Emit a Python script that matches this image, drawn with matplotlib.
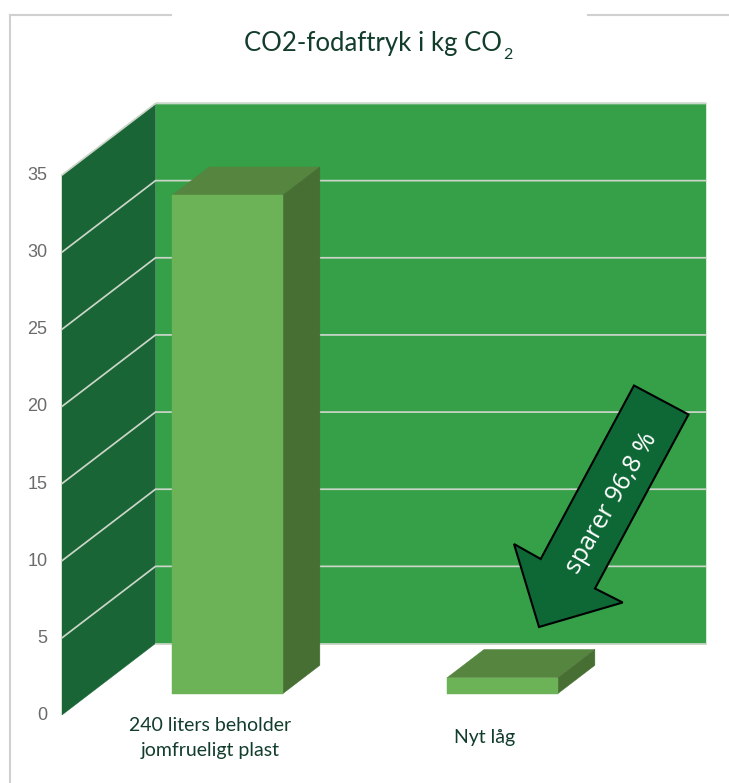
import matplotlib
matplotlib.use("Agg")
import matplotlib.pyplot as plt
from matplotlib.patches import Polygon
from matplotlib.transforms import Affine2D, ScaledTranslation

categories = ["240 liters beholder\njomfrueligt plast", "Nyt låg"]
co2_values = [32.3, 1.03]
y_ticks = [0, 5, 10, 15, 20, 25, 30, 35]
title_text = "CO2-fodaftryk i kg CO"
title_subscript = "2"
arrow_text = "sparer 96,8 %"

W, H = 729, 783
WALL, SIDE_WALL = "#35A047", "#196535"
BAR_FRONT, BAR_TOP, BAR_SIDE = "#6CB256", "#55853F", "#476F33"
ARROW = "#0E6836"
GRID = "#CBD5C9"
TEXT_DARK = "#123D2B"

fig = plt.figure(figsize=(W / 100, H / 100), dpi=100, facecolor="white")
ax = fig.add_axes([62 / W, (H - 715) / H, 550 / W, 540 / H])
ax.set_xlim(-0.5, 1.5)
ax.set_ylim(0, 35)
ax.patch.set_visible(False)
for s in ax.spines.values():
    s.set_visible(False)

# pseudo-3D depth: z=0 is the front plane, z=1 the back wall
DX, DY = 93.5, 71.5


def depth(z):
    return ax.transData + Affine2D().translate(DX * z, DY * z)


def quad(pts_front, pts_back, z0, z1, color, zorder):
    """Polygon whose vertices live in data space at given depths."""
    t0, t1 = depth(z0), depth(z1)
    px = [t0.transform(p) for p in pts_front] + [t1.transform(p) for p in pts_back]
    ax.add_patch(Polygon(px, closed=True, transform=None, facecolor=color,
                         edgecolor=color, linewidth=0.3, zorder=zorder, clip_on=False))


x0, x1 = ax.get_xlim()
ymax = y_ticks[-1]

# Back wall and side wall
fig.canvas.draw()
quad([(x0, 0), (x1, 0), (x1, ymax), (x0, ymax)], [], 1, 1, WALL, 1)
quad([(x0, 0), (x0, ymax)], [(x0, ymax), (x0, 0)], 0, 1, SIDE_WALL, 1)

# Gridlines run across the side wall then along the back wall
for v in y_ticks:
    pts = [depth(0).transform((x0, v)), depth(1).transform((x0, v)), depth(1).transform((x1, v))]
    if v == 0:
        pts = pts[1:]
    ax.plot([p[0] for p in pts], [p[1] for p in pts], transform=Affine2D(),
            color=GRID, lw=1.25, zorder=2, clip_on=False, solid_joinstyle="miter")

# Bars
Z0, Z1 = 0.298, 0.695
BAR_HALF = 0.2015
for i, val in enumerate(co2_values):
    l, r = i - BAR_HALF, i + BAR_HALF
    quad([(l, val), (r, val)], [(r, val), (l, val)], Z0, Z1, BAR_TOP, 3)
    quad([(r, 0), (r, val)], [(r, val), (r, 0)], Z0, Z1, BAR_SIDE, 3)
    quad([(l, 0), (r, 0), (r, val), (l, val)], [], Z0, Z0, BAR_FRONT, 4)

# Axis labels
ax.set_yticks(y_ticks)
ax.set_yticklabels([str(v) for v in y_ticks], fontfamily="Liberation Sans",
                   fontsize=13, color="#6B6B6B")
ax.tick_params(axis="y", length=0, pad=10.5)
ax.set_xticks([0, 1])
ax.set_xticklabels(categories, fontfamily="Lato", fontsize=14, color=TEXT_DARK,
                   linespacing=1.58)
ax.tick_params(axis="x", length=0, pad=0)
shift = ScaledTranslation(10.5 / 100, -23 / 100, fig.dpi_scale_trans)
for lab in ax.get_xticklabels():
    lab.set_transform(lab.get_transform() + shift)
    lab.set_va("center")
for lab in ax.get_yticklabels():
    lab.set_transform(lab.get_transform() + ScaledTranslation(0, 1.5 / 100, fig.dpi_scale_trans))

# Figure-space annotations (pixel coordinates, y measured from the top)
px_trans = Affine2D().scale(1 / W, -1 / H).translate(0, 1) + fig.transFigure

arrow_outline = [(634, 385.5), (688.5, 414.5), (595, 588.5), (622.7, 602.5),
                 (539, 627), (514, 544), (540.7, 559)]
fig.add_artist(Polygon(arrow_outline, closed=True, transform=px_trans, facecolor=ARROW,
                       edgecolor="black", linewidth=1.5, joinstyle="miter", zorder=6))
fig.text(611.5 / W, 1 - 503 / H, arrow_text, rotation=60, ha="center", va="center",
         rotation_mode="anchor", color="white", fontsize=18, fontfamily="Open Sans", zorder=7)

# Title with a low-set subscript
fig.text(502 / W, 1 - 43 / H, title_text, ha="right", va="center", color=TEXT_DARK,
         fontsize=18.5, fontfamily="Lato")
fig.text(503 / W, 1 - 55 / H, title_subscript, ha="left", va="center", color=TEXT_DARK,
         fontsize=11.5, fontfamily="Lato")

# Partial chart frame, interrupted behind the title
for xs, ys in [((10, 10), (15, H)), ((10, 171), (15, 15)), ((588, W), (15, 15))]:
    fig.add_artist(plt.Line2D(xs, ys, transform=px_trans, color="#D0D0D0", lw=1.5,
                              solid_capstyle="projecting"))

fig.savefig("out.png", dpi=100, facecolor="white")
